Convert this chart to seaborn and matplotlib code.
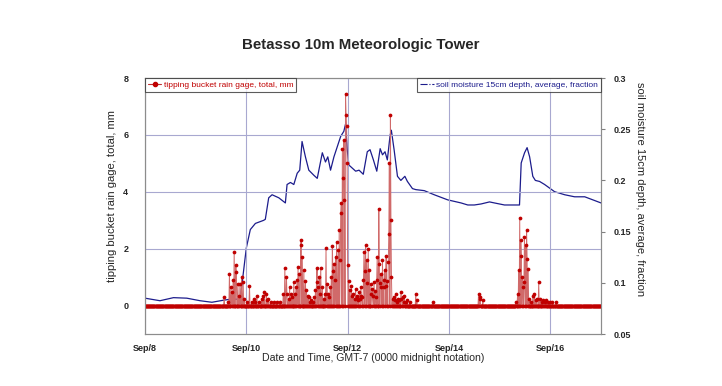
import numpy as np
import pandas as pd
import seaborn as sns
import matplotlib.pyplot as plt
from matplotlib.lines import Line2D
from matplotlib.ticker import FuncFormatter

# hours after Sep 8 00:00 (GMT-7), 15 minute rain totals in mm
rain_hours = [37.5, 39.5, 40.1, 40.7, 41.3, 41.8, 42.3, 42.9, 43.2, 43.9, 44.4, 45.1, 45.8, 46.4,
              47.0, 48.5, 49.6, 50.5, 51.5, 52.3, 53.0, 54.0, 55.2, 56.0, 56.5, 57.5, 58.0, 58.6,
              59.5, 61.0, 62.5, 64.0,
              65.5, 66.2, 66.9, 67.3, 68.0, 68.6, 69.2, 69.7, 70.5, 71.0, 71.4, 72.0, 72.4, 73.0,
              73.7, 74.1, 74.6, 75.2, 75.9, 76.5, 77.0, 77.6, 78.2, 78.7, 79.5, 80.2, 80.8, 81.2,
              81.6, 82.0, 82.4, 82.8, 83.2, 84.0, 84.7, 85.2, 85.7, 86.3, 86.8, 87.3, 87.8, 88.2,
              88.7, 89.1, 89.5, 90.0, 90.3, 90.8, 91.4, 92.0, 92.4, 92.7, 93.1, 93.5, 93.9, 94.2,
              94.6, 94.9, 95.2, 95.5, 95.8, 96.1, 96.6, 97.1, 97.7, 98.2, 98.7, 99.2, 99.8, 100.2,
              100.6, 101.0, 101.4, 101.8, 102.2, 102.6, 103.0, 103.4, 103.8, 104.2, 104.5, 105.0,
              105.3, 105.7, 106.3, 106.9, 107.3, 107.7, 108.1, 108.5, 108.9, 109.3, 109.7, 110.1,
              110.7, 111.0, 111.4, 111.7, 112.1, 112.5, 112.9, 113.3, 113.6, 114.0, 114.2, 114.8,
              115.3, 115.6, 115.8, 116.2, 116.4, 116.7, 117.2, 117.7, 118.3, 118.8, 119.3, 119.9,
              120.5, 121.2, 121.6, 122.0, 122.4, 122.8, 123.5, 124.3, 125.5, 128.3, 128.8, 136.4,
              157.9, 158.4, 158.8, 159.9,
              175.8, 176.6, 177.1, 177.6, 177.9, 178.2, 178.7, 179.0, 179.4, 179.8, 180.3, 180.7,
              181.0, 181.4, 181.9, 183.0, 183.7, 184.5, 185.0, 185.6, 186.4, 187.3, 188.0, 188.5,
              189.2, 190.0, 191.0, 191.7, 193.0, 194.8]
rain_mm = [0.29, 0.12, 1.12, 0.65, 0.47, 0.90, 1.88, 1.41, 1.18, 0.76, 0.35, 0.76, 1.00, 0.82,
           0.24, 0.12, 0.70, 0.12, 0.24, 0.12, 0.35, 0.12, 0.24, 0.35, 0.47, 0.40, 0.18, 0.24,
           0.12, 0.12, 0.12, 0.12,
           0.41, 1.33, 1.00, 0.41, 0.24, 0.65, 0.41, 0.29, 0.82, 0.41, 0.65, 0.90, 1.35, 1.12,
           2.12, 2.32, 1.71, 1.24, 0.88, 0.53, 0.35, 0.29, 0.12, 0.18, 0.12, 0.29, 0.53, 0.82,
           1.33, 0.65, 1.00, 0.41, 1.33, 0.65, 0.24, 0.41, 2.02, 0.76, 0.41, 0.29, 0.65, 1.00,
           2.08, 1.20, 1.47, 0.90, 1.71, 2.24, 1.94, 2.65, 1.60, 3.24, 3.61, 5.49, 4.50, 5.83,
           3.70, 7.45, 6.71, 6.30, 5.00, 1.41, 0.88, 0.53, 0.70, 0.35, 0.41, 0.24, 0.59, 0.35,
           0.29, 0.18, 0.47, 0.24, 0.65, 0.35, 0.29, 0.90, 1.88, 1.20, 2.12, 1.59,
           0.80, 2.00, 1.24, 0.76, 0.41, 0.59, 0.35, 0.82, 0.50, 0.29, 0.90, 1.71,
           3.41, 1.47, 0.80, 1.12, 0.65, 1.59, 0.65, 0.90, 1.24, 0.70, 1.76, 0.88,
           1.53, 2.53, 5.00, 6.71, 3.00, 1.00, 0.24, 0.29, 0.18, 0.41, 0.12, 0.24,
           0.18, 0.47, 0.24, 0.29, 0.12, 0.35, 0.12, 0.18, 0.12, 0.39, 0.18, 0.12,
           0.41, 0.29, 0.24, 0.18,
           0.12, 0.41, 1.24, 3.09, 2.29, 1.76, 1.00, 0.65, 0.82, 2.41, 2.12, 2.65,
           1.65, 1.29, 0.24, 0.12, 0.35, 0.41, 0.18, 0.24, 0.82, 0.24, 0.12, 0.18,
           0.12, 0.18, 0.12, 0.12, 0.12, 0.12]

# soil moisture at 15 cm, fraction
soil_hours = [0, 7.1, 13.5, 19.8, 26.1, 31.7, 37.2, 40.4, 45.1, 48.0, 49.9, 52.3, 56.2, 57.0,
              58.6, 60.2, 63.4, 66.5, 67.3, 68.9, 70.5, 72.1, 73.3, 74.4, 76.0, 77.6, 80.0,
              81.6, 84.0, 85.5, 86.6, 87.9, 89.5, 91.1, 92.7, 94.2, 95.0, 95.8, 96.6, 98.2,
              99.8, 101.4, 103.4, 105.3, 106.6, 108.2, 109.8, 111.4, 112.5, 113.7, 114.8,
              116.1, 116.7, 118.0, 119.6, 121.2, 123.1, 124.3, 126.7, 128.3, 132.3, 137.0,
              143.4, 149.7, 152.9, 156.0, 159.2, 163.2, 165.5, 170.3, 177.4, 178.2, 179.8,
              181.0, 182.2, 183.7, 184.9, 186.9, 189.3, 194.0, 198.8, 203.5, 208.3, 216.0]
soil_frac = [0.085, 0.0825, 0.0855, 0.085, 0.0825, 0.081, 0.083, 0.084, 0.084, 0.134, 0.152,
             0.158, 0.161, 0.162, 0.183, 0.186, 0.183, 0.178, 0.196, 0.198, 0.196, 0.207,
             0.210, 0.238, 0.223, 0.210, 0.205, 0.202, 0.227, 0.218, 0.223, 0.210, 0.223,
             0.233, 0.243, 0.248, 0.255, 0.230, 0.215, 0.212, 0.209, 0.210, 0.206, 0.228,
             0.230, 0.220, 0.209, 0.231, 0.225, 0.228, 0.220, 0.244, 0.249, 0.230, 0.204,
             0.200, 0.204, 0.199, 0.192, 0.191, 0.190, 0.186, 0.181, 0.178, 0.176, 0.176,
             0.177, 0.179, 0.178, 0.176, 0.176, 0.217, 0.227, 0.232, 0.223, 0.204, 0.200,
             0.199, 0.196, 0.189, 0.186, 0.184, 0.184, 0.178]

start = pd.Timestamp('2013-09-08 00:00')
end = pd.Timestamp('2013-09-17 00:00')
tick_days = pd.date_range(start, end, freq='2D')

# 15 minute record, no rain unless listed
times = pd.date_range(start, end, freq='15min')
rain = np.zeros(len(times))
for h, v in zip(rain_hours, rain_mm):
    rain[int(round(h * 4))] = v
rain_df = pd.DataFrame({'time': times, 'rain': rain})
soil_df = pd.DataFrame({'time': start + pd.to_timedelta(soil_hours, unit='h'),
                        'soil': soil_frac})

sns.set_style('white')
plt.rcParams['font.family'] = ['Liberation Sans', 'DejaVu Sans']

RED = '#c00000'
NAVY = '#1c1c8c'
GRID = '#a8a8d0'

fig = plt.figure(figsize=(7.22, 3.86), dpi=100)
ax = fig.add_axes([0.2008, 0.1347, 0.6316, 0.6632])
ax2 = ax.twinx()

sns.lineplot(data=soil_df, x='time', y='soil', ax=ax2, color=NAVY, lw=0.9)
sns.lineplot(data=rain_df, x='time', y='rain', ax=ax, color='#d06a6a', lw=0.7,
             marker='o', markersize=2.7, markerfacecolor=RED, markeredgecolor=RED,
             markeredgewidth=0)

ax.set_zorder(ax2.get_zorder() + 1)
ax.patch.set_visible(False)

ax.set_xlim(start, end)
ax.set_ylim(-1, 8)
ax.set_yticks([0, 2, 4, 6, 8])
ax.set_xticks(tick_days)
ax.xaxis.set_major_formatter(FuncFormatter(
    lambda v, p: '{:%b}/{}'.format(pd.Timestamp(v, unit='D'), pd.Timestamp(v, unit='D').day)))
ax2.set_ylim(0.05, 0.3)
ax2.set_yticks([0.05, 0.1, 0.15, 0.2, 0.25, 0.3])
ax2.set_yticklabels(['0.05', '0.1', '0.15', '0.2', '0.25', '0.3'])

ax.grid(True, color=GRID, lw=0.8)
ax.tick_params(axis='both', length=0, labelsize=6.5)
ax.tick_params(axis='y', pad=12)
ax.tick_params(axis='x', pad=7)
ax2.tick_params(axis='y', length=3, color='#808080', labelsize=6.5, pad=6)
for lab in ax.get_xticklabels() + ax.get_yticklabels() + ax2.get_yticklabels():
    lab.set_fontweight('bold')

for a in (ax, ax2):
    for s in a.spines.values():
        s.set_color('#8c8c8c')
        s.set_linewidth(0.8)

ax.set_xlabel('Date and Time, GMT-7 (0000 midnight notation)', fontsize=7.6, va='center')
ax.xaxis.set_label_coords(0.5, -0.094)
ax.set_ylabel('tipping bucket rain gage, total, mm', fontsize=8.1, va='center')
ax.yaxis.set_label_coords(-0.072, 0.54)
ax2.set_ylabel('soil moisture 15cm depth, average, fraction', fontsize=8.0,
               rotation=270, va='center')
ax2.yaxis.set_label_coords(1.086, 0.566)

fig.text(0.5, 0.883, 'Betasso 10m Meteorologic Tower', ha='center', va='center',
         fontsize=10.8, fontweight='bold')

rain_handle = Line2D([], [], color='#c03030', lw=0.8, marker='o', markersize=3,
                     markerfacecolor=RED, markeredgecolor=RED)
soil_handle = Line2D([], [], color=NAVY, lw=0.8, ls='-.')
leg1 = ax.legend([rain_handle], ['tipping bucket rain gage, total, mm'], loc='upper left',
                 borderaxespad=0, fontsize=6, frameon=True, fancybox=False,
                 edgecolor='#333333', borderpad=0.35, handlelength=1.6, handletextpad=0.3,
                 labelcolor=RED)
leg1.get_frame().set_linewidth(0.8)
ax.add_artist(leg1)
leg2 = ax.legend([soil_handle], ['soil moisture 15cm depth, average, fraction'],
                 loc='upper right', borderaxespad=0, fontsize=6, frameon=True,
                 fancybox=False, edgecolor='#333333', borderpad=0.35, handlelength=1.6,
                 handletextpad=0.3, labelcolor=NAVY)
leg2.get_frame().set_linewidth(0.8)

fig.savefig('out.png', dpi=100)
